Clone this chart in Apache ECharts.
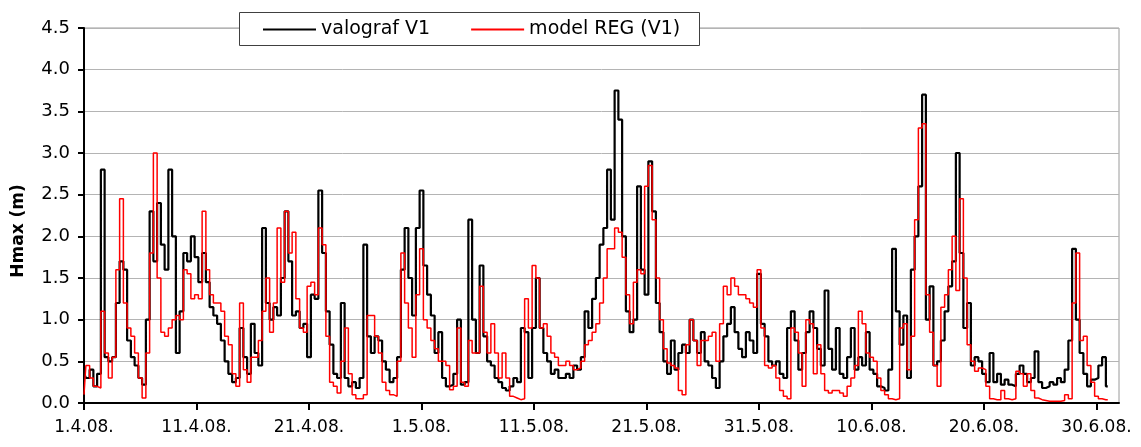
<!DOCTYPE html>
<html>
<head>
<meta charset="utf-8">
<title>Hmax</title>
<script src="https://cdn.jsdelivr.net/npm/echarts@6/dist/echarts.min.js"></script>
<style>
html, body { margin: 0; padding: 0; background: #fff; }
#chart { width: 1141px; height: 447px; }
</style>
</head>
<body>
<div id="chart"></div>
<script>
// korak 8 h (1/3 dana), počevši od 1.4.2008.
const stepDays = 1 / 3;

const xTickDays = [0, 10, 20, 30, 40, 50, 60, 70, 80, 90];
const xTickLabels = ['1.4.08.', '11.4.08.', '21.4.08.', '1.5.08.', '11.5.08.', '21.5.08.', '31.5.08.', '10.6.08.', '20.6.08.', '30.6.08.'];
const yTickLabels = ['0.0', '0.5', '1.0', '1.5', '2.0', '2.5', '3.0', '3.5', '4.0', '4.5'];

const seriesNames = ['valograf V1', 'model REG (V1)'];

// valograf V1 - Hmax (m)
const valografV1 = [
    0.36, 0.3, 0.4, 0.2, 0.35, 2.8, 0.55, 0.5, 0.55, 1.2, 1.7, 1.6, 0.75, 0.55, 0.45, 0.3, 0.22, 1.0, 2.3, 1.7,
    2.4, 1.9, 1.6, 2.8, 2.0, 0.6, 1.1, 1.8, 1.7, 2.0, 1.75, 1.45, 1.8, 1.45, 1.15, 1.05, 0.95, 0.75, 0.5, 0.35,
    0.25, 0.3, 0.9, 0.55, 0.35, 0.95, 0.6,
    0.45, 2.1, 1.2, 1.0, 1.15, 1.05, 1.5, 2.3, 1.7, 1.05, 1.1, 0.9, 0.95, 0.55, 1.3, 1.25, 2.55, 1.8, 1.1, 0.7,
    0.35, 0.3, 1.2, 0.3, 0.2, 0.25, 0.18, 0.3, 1.9, 0.8, 0.6, 0.8, 0.75, 0.5, 0.4, 0.25, 0.3, 0.55, 1.6, 2.1,
    1.5, 1.05, 2.1, 2.55, 1.65, 1.3, 1.05,
    0.6, 0.85, 0.3, 0.2, 0.22, 0.35, 1.0, 0.22, 0.25, 2.2, 1.0, 0.6, 1.65, 0.8, 0.5, 0.45, 0.3, 0.25, 0.18, 0.15,
    0.2, 0.3, 0.25, 0.9, 0.85, 0.3, 0.9, 1.5, 0.9, 0.6, 0.5, 0.35, 0.4, 0.3, 0.3, 0.35, 0.3, 0.45, 0.4, 0.55,
    1.1, 0.9, 1.25, 1.5, 1.9, 2.1, 2.8,
    2.2, 3.75, 3.4, 2.0, 1.1, 0.85, 1.0, 2.6, 1.6, 1.3, 2.9, 2.3, 1.2, 0.85, 0.5, 0.35, 0.75, 0.4, 0.6, 0.7,
    0.6, 1.0, 0.75, 0.6, 0.85, 0.5, 0.45, 0.3, 0.18, 0.5, 0.8, 0.95, 1.15, 0.85, 0.65, 0.55, 0.85, 0.75, 0.6, 1.55,
    0.95, 0.8, 0.5, 0.45, 0.5, 0.35, 0.3,
    0.9, 1.1, 0.75, 0.4, 0.6, 0.85, 1.1, 0.9, 0.65, 0.45, 1.35, 0.65, 0.4, 0.9, 0.35, 0.3, 0.55, 0.9, 0.4, 0.55,
    0.45, 0.85, 0.4, 0.35, 0.2, 0.18, 0.15, 0.4, 1.85, 1.1, 0.7, 1.05, 0.3, 1.6, 2.0, 2.6, 3.7, 1.0, 1.4, 0.45,
    0.5, 0.75, 1.1, 1.4, 1.7, 3.0,
    1.8, 0.9, 1.2, 0.45, 0.55, 0.5, 0.35, 0.25, 0.6, 0.25, 0.35, 0.22, 0.28, 0.22, 0.2, 0.35, 0.45, 0.35, 0.25, 0.3,
    0.62, 0.25, 0.18, 0.2, 0.25, 0.22, 0.3, 0.25, 0.4, 0.75, 1.85, 1.0, 0.6, 0.35, 0.2, 0.28, 0.3, 0.45, 0.55, 0.2
];

// model REG (V1) - Hmax (m)
const modelRegV1 = [
    0.1, 0.45, 0.3, 0.2, 0.18, 1.1, 0.6, 0.3, 0.55, 1.6, 2.45, 1.2, 0.9, 0.8, 0.6, 0.3, 0.06, 0.6, 1.8, 3.0,
    1.5, 0.85, 0.8, 0.9, 1.0, 1.05, 1.0, 1.6, 1.55, 1.25, 1.3, 1.25, 2.3, 1.6, 1.3, 1.2, 1.2, 1.1, 0.8, 0.7,
    0.35, 0.2, 1.2, 0.4, 0.25, 0.55, 0.55,
    0.75, 1.1, 1.5, 0.85, 1.2, 2.1, 1.45, 2.3, 1.8, 2.05, 1.25, 0.9, 0.85, 1.4, 1.45, 1.3, 2.1, 1.9, 0.8, 0.25,
    0.2, 0.12, 0.5, 0.9, 0.35, 0.1, 0.05, 0.05, 0.1, 1.05, 1.05, 0.8, 0.6, 0.25, 0.15, 0.1, 0.08, 0.5, 1.8, 1.2,
    0.9, 0.55, 1.3, 1.85, 1.0, 0.9, 0.75,
    0.65, 0.5, 0.5, 0.45, 0.16, 0.2, 0.9, 0.25, 0.2, 0.75, 0.6, 0.6, 1.4, 0.85, 0.6, 0.95, 0.6, 0.3, 0.6, 0.3,
    0.08, 0.06, 0.04, 0.05, 1.25, 0.9, 1.65, 1.5, 0.9, 0.95, 0.8, 0.6, 0.55, 0.45, 0.45, 0.5, 0.45, 0.4, 0.42, 0.5,
    0.7, 0.75, 0.85, 0.95, 1.2, 1.5, 1.85,
    1.85, 2.1, 2.05, 1.75, 1.3, 0.95, 1.45, 1.6, 1.55, 2.6, 2.85, 2.2, 1.5, 1.0, 0.65, 0.48, 0.45, 0.42, 0.15, 0.1,
    0.7, 1.0, 0.75, 0.45, 0.75, 0.75, 0.8, 0.85, 0.5, 0.95, 1.4, 1.3, 1.5, 1.4, 1.3, 1.3, 1.25, 1.2, 1.15, 1.6,
    0.9, 0.45, 0.42, 0.45, 0.3, 0.15, 0.08,
    0.05, 0.9, 0.85, 0.6, 0.2, 1.0, 0.95, 0.35, 0.7, 0.35, 0.15, 0.12, 0.15, 0.15, 0.12, 0.08, 0.2, 0.3, 0.45, 1.1,
    0.95, 0.6, 0.55, 0.5, 0.3, 0.15, 0.1, 0.05, 0.04, 0.05, 0.9, 0.95, 0.4, 0.8, 2.2, 3.3, 3.35, 1.3, 0.85, 0.45,
    0.2, 1.15, 1.3, 1.6, 2.0, 1.35,
    2.45, 1.5, 0.7, 0.5, 0.38, 0.42, 0.4, 0.2, 0.05, 0.04, 0.04, 0.15, 0.05, 0.04, 0.05, 0.38, 0.35, 0.2, 0.35, 0.15,
    0.06, 0.04, 0.03, 0.02, 0.02, 0.02, 0.02, 0.03, 0.1, 0.05, 1.2, 1.8, 0.75, 0.8, 0.45, 0.25, 0.08, 0.05, 0.04, 0.04
];

const fontFamily = 'DejaVu Sans';

function toPairs(values) {
    return values.map((v, i) => [i * stepDays, v]);
}

const myChart = echarts.init(document.getElementById('chart'), null, { renderer: 'canvas' });

const option = {
    animation: false,
    backgroundColor: '#fff',
    grid: {
        left: 84,
        right: 22,
        top: 28,
        bottom: 44,
        show: true,
        borderColor: '#9a9a9a',
        borderWidth: 1
    },
    graphic: [
        { // okvir legende
            type: 'rect',
            z: 3,
            shape: { x: 239.5, y: 12.5, width: 460, height: 33 },
            style: { fill: '#fff', stroke: '#404040', lineWidth: 1 }
        },
        { // naziv osi Y
            type: 'text',
            z: 3,
            x: 19,
            y: 231,
            rotation: Math.PI / 2,
            style: {
                text: 'Hmax (m)',
                font: 'bold 17px "DejaVu Sans"',
                fill: '#000',
                textAlign: 'center',
                textVerticalAlign: 'middle'
            }
        }
    ],
    legend: {
        left: 263,
        top: 20,
        padding: 0,
        icon: 'rect',
        itemWidth: 53,
        itemHeight: 2,
        itemGap: 41,
        textStyle: { fontFamily: fontFamily, fontSize: 19, color: '#000' },
        data: seriesNames
    },
    xAxis: {
        type: 'value',
        min: 0,
        max: 92,
        interval: 10,
        axisLine: { lineStyle: { color: '#000', width: 2 } },
        axisTick: {
            show: true,
            length: 7,
            customValues: xTickDays,
            lineStyle: { color: '#000', width: 2 }
        },
        axisLabel: {
            customValues: xTickDays,
            formatter: v => xTickLabels[xTickDays.indexOf(v)] || '',
            margin: 16,
            color: '#000',
            fontFamily: fontFamily,
            fontSize: 17
        },
        splitLine: { show: false }
    },
    yAxis: {
        type: 'value',
        min: 0,
        max: 4.5,
        interval: 0.5,
        axisLine: { show: true, lineStyle: { color: '#000', width: 2 } },
        axisTick: { show: true, length: 6, lineStyle: { color: '#000', width: 2 } },
        axisLabel: {
            formatter: v => yTickLabels[Math.round(v / 0.5)],
            margin: 14,
            color: '#000',
            fontFamily: fontFamily,
            fontSize: 18
        },
        splitLine: { lineStyle: { color: '#b4b4b4', width: 1 } }
    },
    series: [
        {
            name: seriesNames[0],
            type: 'line',
            step: 'middle',
            data: toPairs(valografV1),
            showSymbol: false,
            symbol: 'none',
            itemStyle: { color: '#000' },
            lineStyle: { color: '#000', width: 2.2 },
            z: 2
        },
        {
            name: seriesNames[1],
            type: 'line',
            step: 'middle',
            data: toPairs(modelRegV1),
            showSymbol: false,
            symbol: 'none',
            itemStyle: { color: '#ff0000' },
            lineStyle: { color: '#ff0000', width: 1.5 },
            z: 3
        }
    ]
};

myChart.setOption(option);
</script>
</body>
</html>
